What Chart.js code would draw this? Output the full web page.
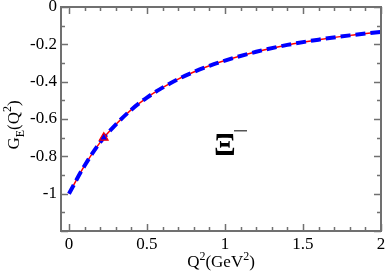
<!DOCTYPE html>
<html>
<head>
<meta charset="utf-8">
<script src="https://cdn.jsdelivr.net/npm/chart.js@4"></script>
<style>
  html, body { margin: 0; padding: 0; background: #fff; }
  #wrap { width: 388px; height: 274px; }
</style>
</head>
<body>
<div id="wrap"><canvas id="grafico"></canvas></div>
<script>
// values
const q2 = [0, 0.1, 0.2, 0.3, 0.4, 0.5, 0.6, 0.7, 0.8, 0.9, 1.0, 1.2, 1.4, 1.6, 1.8, 2.0];
const geRed = [-1.00, -0.85, -0.725, -0.63, -0.55, -0.485, -0.432, -0.386, -0.348, -0.315, -0.287, -0.24, -0.203, -0.175, -0.152, -0.133];
const geBlue = [-1.00, -0.85, -0.725, -0.63, -0.55, -0.485, -0.432, -0.386, -0.348, -0.315, -0.287, -0.24, -0.203, -0.175, -0.152, -0.133];
const markQ2 = [0.223];
const markGE = [-0.70];
const xTicks = [0, 0.5, 1, 1.5, 2];
const yTicks = [0, -0.2, -0.4, -0.6, -0.8, -1, -1.2];

const serif = '"Liberation Serif", "DejaVu Serif", serif';

function pts(xs, ys) {
  return xs.map((x, i) => ({ x: x, y: ys[i] }));
}

const frame = {
  id: 'frame',
  afterDraw(chart) {
    const ctx = chart.ctx;
    const a = chart.chartArea;
    const xs = chart.scales.x, ys = chart.scales.y;
    ctx.save();
    ctx.strokeStyle = '#707070';
    ctx.lineWidth = 2;
    ctx.strokeRect(a.left, a.top, a.right - a.left, a.bottom - a.top);
    ctx.lineWidth = 1.5;
    ctx.beginPath();
    // x ticks (major 0.5, minor 0.1), inward top and bottom
    for (let i = 0; i <= 20; i++) {
      const v = i / 10;
      const px = Math.round(xs.getPixelForValue(v)) + 0.5;
      const len = (i % 5 === 0) ? 7 : 4;
      ctx.moveTo(px, a.bottom); ctx.lineTo(px, a.bottom - len);
      ctx.moveTo(px, a.top); ctx.lineTo(px, a.top + len);
    }
    // y ticks (major 0.2, minor 0.1), inward left and right
    for (let i = 0; i <= 12; i++) {
      const v = -i / 10;
      const py = Math.round(ys.getPixelForValue(v)) + 0.5;
      const len = (i % 2 === 0) ? 7 : 4;
      ctx.moveTo(a.left, py); ctx.lineTo(a.left + len, py);
      ctx.moveTo(a.right, py); ctx.lineTo(a.right - len, py);
    }
    ctx.stroke();

    ctx.fillStyle = '#000';
    ctx.textBaseline = 'alphabetic';
    // x title: Q^2(GeV^2)
    const big = '17px ' + serif, small = '12px ' + serif;
    const xParts = [['Q', big, 0], ['2', small, -7], ['(GeV', big, 0], ['2', small, -7], [')', big, 0]];
    let w = 0;
    xParts.forEach(p => { ctx.font = p[1]; w += ctx.measureText(p[0]).width; });
    let cx = (a.left + a.right) / 2 - w / 2;
    xParts.forEach(p => { ctx.font = p[1]; ctx.fillText(p[0], cx, 267 + p[2]); cx += ctx.measureText(p[0]).width; });

    // y title: G_E(Q^2), rotated
    ctx.save();
    ctx.translate(19, 125);
    ctx.rotate(-Math.PI / 2);
    const yParts = [['G', big, 0], ['E', small, 5], ['(Q', big, 0], ['2', small, -8], [')', big, 0]];
    w = 0;
    yParts.forEach(p => { ctx.font = p[1]; w += ctx.measureText(p[0]).width; });
    cx = -w / 2;
    yParts.forEach(p => { ctx.font = p[1]; ctx.fillText(p[0], cx, p[2]); cx += ctx.measureText(p[0]).width; });
    ctx.restore();

    // particle label
    ctx.font = 'bold 32px ' + serif;
    ctx.fillText('Ξ', 214, 155);
    ctx.fillStyle = '#555';
    ctx.fillRect(234, 130, 13, 1.5);
    ctx.restore();
  }
};

const chartData = {
  datasets: [
    {
      label: 'red',
      data: pts(q2, geRed),
      showLine: true,
      borderColor: '#ff0000',
      borderWidth: 1.5,
      pointRadius: 0,
      cubicInterpolationMode: 'monotone',
      order: 2
    },
    {
      label: 'blue',
      data: pts(q2, geBlue),
      showLine: true,
      borderColor: '#0000ff',
      borderWidth: 4,
      borderDash: [10, 5],
      pointRadius: 0,
      cubicInterpolationMode: 'monotone',
      order: 1
    },
    {
      label: 'mark',
      data: pts(markQ2, markGE),
      showLine: false,
      pointStyle: 'triangle',
      pointRadius: 5,
      borderWidth: 1.2,
      borderColor: '#ff0000',
      backgroundColor: '#0000ff',
      order: 0
    }
  ]
};

const options = {
  responsive: true,
  maintainAspectRatio: false,
  animation: false,
  layout: { padding: { top: 7, right: 0, left: 0, bottom: 0 } },
  plugins: { legend: { display: false }, tooltip: { enabled: false } },
  scales: {
    x: {
      type: 'linear',
      min: -0.051,
      max: 2,
      grid: { display: false, drawTicks: false },
      border: { display: false },
      afterBuildTicks: s => { s.ticks = xTicks.map(v => ({ value: v })); },
      afterFit: s => { s.height = 43; s.paddingRight = 7; s.paddingLeft = 0; },
      ticks: {
        color: '#000',
        padding: 3,
        maxRotation: 0,
        font: { family: serif, size: 17 },
        callback: v => String(v)
      }
    },
    y: {
      type: 'linear',
      min: -1.2,
      max: 0,
      grid: { display: false, drawTicks: false },
      border: { display: false },
      afterBuildTicks: s => { s.ticks = yTicks.map(v => ({ value: v })); },
      afterFit: s => { s.width = 61; s.paddingTop = 0; s.paddingBottom = 0; },
      ticks: {
        color: '#000',
        padding: 4,
        font: { family: serif, size: 17 },
        callback: v => (v === -1.2 ? '' : (v === 0 ? '0' : (v === -1 ? '-1' : v.toFixed(1))))
      }
    }
  }
};

new Chart(document.getElementById('grafico'), {
  type: 'scatter',
  data: chartData,
  options: options,
  plugins: [frame]
});
</script>
</body>
</html>
